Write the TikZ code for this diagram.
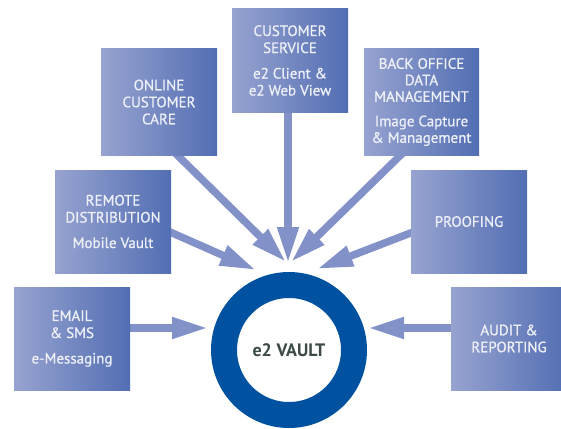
\documentclass[tikz,border=0pt]{standalone}
\usepackage{fontspec}
\setmainfont{PT Sans}
\newfontfamily\boxfont[FakeBold=0.8]{PT Sans}
\usetikzlibrary{arrows.meta}
\definecolor{boxL}{HTML}{97A3D0}
\definecolor{boxR}{HTML}{526EB3}
\definecolor{arrc}{HTML}{8391C9}
\definecolor{ring}{HTML}{0052A0}
\definecolor{vtxt}{HTML}{3C4A45}
\definecolor{btxt}{HTML}{EEF0F8}
\tikzset{
  svcbox/.style={rectangle, inner sep=0pt, minimum width=116pt, minimum height=104pt,
    left color=boxL, right color=boxR, text=btxt, align=center,
    font=\boxfont\fontsize{15}{17}\selectfont},
  arr/.style={draw=arrc, line width=7.5pt, -{Triangle[length=36pt, width=20pt, fill=arrc]}},
}
\begin{document}
\begin{tikzpicture}[x=1pt,y=-1pt]
\useasboundingbox (0,0) rectangle (561,428);
\clip (0,0) rectangle (561,428);
% arrow end points
\coordinate (s1) at (167,145); \coordinate (t1) at (286,262);
\coordinate (s2) at (288,100); \coordinate (t2) at (288,263);
\coordinate (s3) at (411,145); \coordinate (t3) at (291,262);
\coordinate (s4) at (161,228); \coordinate (t4) at (256,270);
\coordinate (s5) at (421,229); \coordinate (t5) at (317,269);
\coordinate (s6) at (120,328); \coordinate (t6) at (208,328);
\coordinate (s7) at (462,328); \coordinate (t7) at (368,328);
\draw[arr] (s1) -- (t1);
\draw[arr] (s2) -- (t2);
\draw[arr] (s3) -- (t3);
\draw[arr] (s4) -- (t4);
\draw[arr] (s5) -- (t5);
\draw[arr] (s6) -- (t6);
\draw[arr] (s7) -- (t7);
% boxes
\node[svcbox, minimum height=106pt] (occ) at (159,102) {ONLINE\\CUSTOMER\\CARE};
\node[svcbox, minimum height=103pt] (cs) at (290,60.5) {CUSTOMER\\SERVICE\\[8.5pt]e2 Client \&\\e2 Web View};
\node[svcbox, minimum width=115pt, minimum height=106pt, font=\boxfont\fontsize{15}{16.5}\selectfont] (bo) at (421.5,102) {BACK OFFICE\\DATA\\MANAGEMENT\\[8pt]Image Capture\\\& Management};
\node[svcbox, minimum height=103pt] (rd) at (113,221.5) {REMOTE\\DISTRIBUTION\\[8.5pt]Mobile Vault};
\node[svcbox, minimum height=103pt] (pf) at (469,221.5) {PROOFING};
\node[svcbox, minimum height=103pt] (em) at (72,338.5) {EMAIL\\\& SMS\\[8.5pt]e-Messaging};
\node[svcbox, minimum height=103pt] (au) at (509,338.5) {AUDIT \&\\REPORTING};
% vault
\node[circle, draw=ring, fill=white, line width=26pt, minimum size=130pt, inner sep=0pt,
  text=vtxt, font=\bfseries\fontsize{18}{20}\selectfont] (vault) at (289,350) {e2 VAULT};
\end{tikzpicture}
\end{document}
